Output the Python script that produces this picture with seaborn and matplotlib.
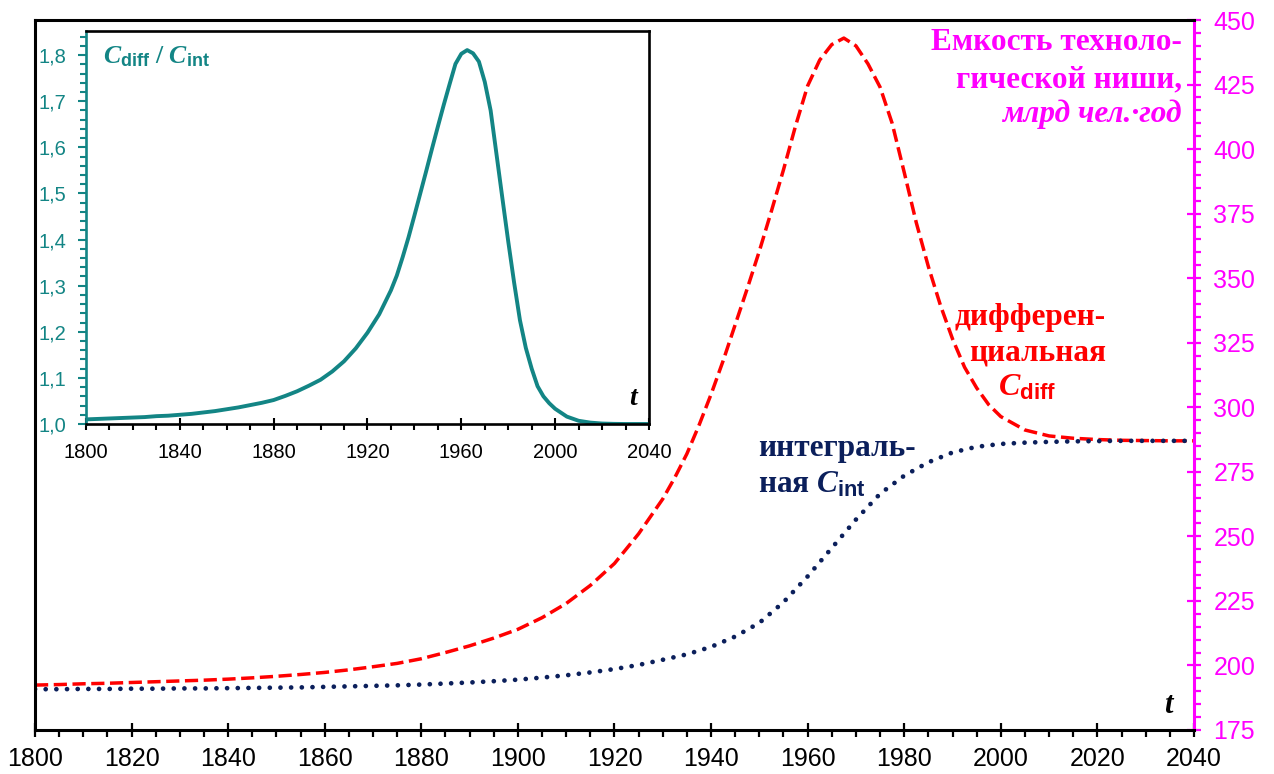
import numpy as np
import pandas as pd
import matplotlib
matplotlib.use("Agg")
import matplotlib.pyplot as plt
from matplotlib.ticker import MultipleLocator, FuncFormatter
import seaborn as sns

# values
years = [1800, 1805, 1810, 1815, 1820, 1825, 1830, 1835, 1840, 1845, 1850, 1855,
         1860, 1865, 1870, 1875, 1880, 1885, 1890, 1895, 1900, 1905, 1910, 1915,
         1920, 1925, 1930, 1935, 1940, 1945, 1950, 1955, 1960, 1965, 1970, 1975,
         1980, 1985, 1990, 1995, 2000, 2005, 2010, 2015, 2020, 2025, 2030, 2035, 2040]

# finer year steps where the curves bend sharply
fine_years = list(years[:26]) + [1930 + 2.5 * i for i in range(29)] + years[41:]

c_diff = [192.4, 192.6, 192.9, 193.1, 193.4, 193.7, 194.0, 194.3, 194.7, 195.2,
          195.8, 196.5, 197.3, 198.3, 199.5, 200.8, 202.6, 205.0, 207.6, 210.6,
          214.0, 218.5, 224.0, 231.0, 239.5, 251.0,
          264.5, 272.8, 282.0, 293.0, 305.0, 318.0, 332.0, 346.0, 360.5, 376.0,
          392.0, 409.0, 424.5, 434.5, 440.5, 443.0, 440.0, 433.0, 424.0, 410.0,
          391.0, 371.5, 354.5, 339.5, 326.5, 315.5, 307.5, 301.0, 296.4,
          291.2, 288.9, 288.0, 287.5, 287.2, 287.1, 287.0, 287.0]

c_int = [190.8, 190.8, 190.9, 190.9, 191.0, 191.0, 191.1, 191.1, 191.2, 191.3,
         191.4, 191.5, 191.7, 191.9, 192.1, 192.3, 192.6, 193.0, 193.4, 193.9,
         194.5, 195.3, 196.2, 197.3, 198.6, 200.2, 202.2, 204.3, 207.2, 211.2,
         216.5, 224.5, 234.5, 245.5, 256.5, 266.5, 273.5, 278.7, 282.5, 284.7,
         285.8, 286.3, 286.6, 286.8, 286.9, 287.0, 287.0, 287.0, 287.0]

ratio = [1.010, 1.011, 1.012, 1.013, 1.014, 1.015, 1.017, 1.018, 1.020, 1.022,
         1.025, 1.028, 1.032, 1.036, 1.041, 1.046, 1.052, 1.061, 1.071, 1.083,
         1.096, 1.114, 1.136, 1.164, 1.198, 1.238,
         1.290, 1.322, 1.362, 1.405, 1.452, 1.500, 1.548, 1.597, 1.645, 1.692,
         1.737, 1.781, 1.803, 1.811, 1.804, 1.786, 1.742, 1.680, 1.585, 1.490,
         1.396, 1.307, 1.225, 1.165, 1.120, 1.082, 1.060, 1.045, 1.033,
         1.016, 1.007, 1.003, 1.001, 1.0003, 1.0, 1.0, 1.0]

right_ticks = [175, 200, 225, 250, 275, 300, 325, 350, 375, 400, 425, 450]
bottom_ticks = list(range(1800, 2041, 20))
inset_x_ticks = list(range(1800, 2041, 40))
inset_y_ticks = [1.0, 1.1, 1.2, 1.3, 1.4, 1.5, 1.6, 1.7, 1.8]

RED = "#ff0000"
NAVY = "#0b1f5b"
TEAL = "#138585"
MAGENTA = "#ff00ff"

sns.set_theme(style="white")
plt.rcParams["font.family"] = ["Liberation Sans", "DejaVu Sans"]
plt.rcParams["mathtext.fontset"] = "custom"
plt.rcParams["mathtext.it"] = "Liberation Serif:italic:bold"
plt.rcParams["mathtext.rm"] = "Liberation Serif:bold"
plt.rcParams["mathtext.bf"] = "Liberation Sans:bold"

fig = plt.figure(figsize=(12.74, 7.74), dpi=100)
ax = fig.add_axes([0.02747, 0.05685, 0.9097, 0.9173])

sns.lineplot(x=fine_years, y=c_diff, ax=ax, color=RED, linewidth=2.5,
             linestyle=(0, (3.8, 1.6)))
sns.lineplot(x=years, y=c_int, ax=ax, color=NAVY, linewidth=3.4,
             linestyle=(0, (0.01, 2.25)), dash_capstyle="round")

ax.set_xlim(1800, 2040)
ax.set_ylim(175, 450)
ax.yaxis.tick_right()
ax.set_xticks(bottom_ticks)
ax.set_yticks(right_ticks)
ax.xaxis.set_minor_locator(MultipleLocator(5))
ax.yaxis.set_minor_locator(MultipleLocator(5))
ax.tick_params(axis="x", which="major", direction="inout", length=10, width=1.6,
               colors="black", labelsize=18, pad=7, bottom=True)
ax.tick_params(axis="x", which="minor", direction="out", length=5, width=1.6,
               colors="black", bottom=True)
ax.tick_params(axis="y", which="major", direction="inout", length=10, width=1.6,
               colors=MAGENTA, labelsize=18, pad=9, right=True, left=False)
ax.tick_params(axis="y", which="minor", direction="out", length=5, width=1.6,
               colors=MAGENTA, right=True, left=False)
for s in ["left", "top", "bottom"]:
    ax.spines[s].set_color("black")
    ax.spines[s].set_linewidth(2.2)
ax.spines["right"].set_color(MAGENTA)
ax.spines["right"].set_linewidth(2.2)
ax.set_xlabel("")
ax.set_ylabel("")

serif = ["Liberation Serif", "DejaVu Serif"]
fs = 22.5
ax.text(2037.5, 438.4, "Емкость техноло-", ha="right", va="baseline", color=MAGENTA,
        fontsize=fs, fontweight="bold", family=serif)
ax.text(2037.5, 424.0, "гической ниши,", ha="right", va="baseline", color=MAGENTA,
        fontsize=fs, fontweight="bold", family=serif)
ax.text(2037.5, 410.5, "млрд чел.·год", ha="right", va="baseline", color=MAGENTA,
        fontsize=fs, fontweight="bold", fontstyle="italic", family=serif)

ax.text(2021.8, 331.9, "дифферен-", ha="right", va="baseline", color=RED,
        fontsize=fs, fontweight="bold", family=serif)
ax.text(2021.8, 318.3, "циальная", ha="right", va="baseline", color=RED,
        fontsize=fs, fontweight="bold", family=serif)
ax.text(1999.4, 304.4, r"$C_{\mathbf{diff}}$", ha="left", va="baseline", color=RED,
        fontsize=23)

ax.text(1949.8, 281.1, "интеграль-", ha="left", va="baseline", color=NAVY,
        fontsize=fs, fontweight="bold", family=serif)
ax.text(1949.8, 266.8, r"ная $C_{\mathbf{int}}$", ha="left", va="baseline", color=NAVY,
        fontsize=fs, fontweight="bold", family=serif)

ax.text(2034.9, 181.6, r"$t$", ha="center", va="baseline", color="black", fontsize=22)

# inset: ratio of the two capacities
ins = fig.add_axes([0.0675, 0.4522, 0.4419, 0.5081])
ins.set_facecolor("white")
sns.lineplot(x=fine_years, y=ratio, ax=ins, color=TEAL, linewidth=2.8)
ins.set_xlim(1800, 2040)
ins.set_ylim(1.0, 1.853)
ins.set_xticks(inset_x_ticks)
ins.set_yticks(inset_y_ticks)
ins.xaxis.set_minor_locator(MultipleLocator(10))
ins.yaxis.set_minor_locator(MultipleLocator(0.02))
ins.yaxis.set_major_formatter(FuncFormatter(lambda v, p: f"{v:.1f}".replace(".", ",")))
ins.tick_params(axis="x", which="major", direction="inout", length=9, width=1.5,
                colors="black", labelsize=14.5, pad=9, bottom=True)
ins.tick_params(axis="x", which="minor", direction="out", length=4, width=1.5,
                colors="black", bottom=True)
ins.tick_params(axis="y", which="major", direction="out", length=6, width=1.5,
                colors=TEAL, labelsize=14.5, pad=8, left=True)
ins.tick_params(axis="y", which="minor", direction="out", length=4, width=1.5,
                colors=TEAL, left=True)
for s in ["top", "right", "bottom"]:
    ins.spines[s].set_color("black")
    ins.spines[s].set_linewidth(1.9)
ins.spines["left"].set_color(TEAL)
ins.spines["left"].set_linewidth(1.9)
ins.set_xlabel("")
ins.set_ylabel("")
ins.text(1807.4, 1.782, r"$C_{\mathbf{diff}}$ / $C_{\mathbf{int}}$", ha="left",
         va="baseline", color=TEAL, fontsize=18.5, fontweight="bold", family=serif)
ins.text(2033.5, 1.041, r"$t$", ha="center", va="baseline", color="black", fontsize=20)

fig.savefig("out.png", dpi=100)
